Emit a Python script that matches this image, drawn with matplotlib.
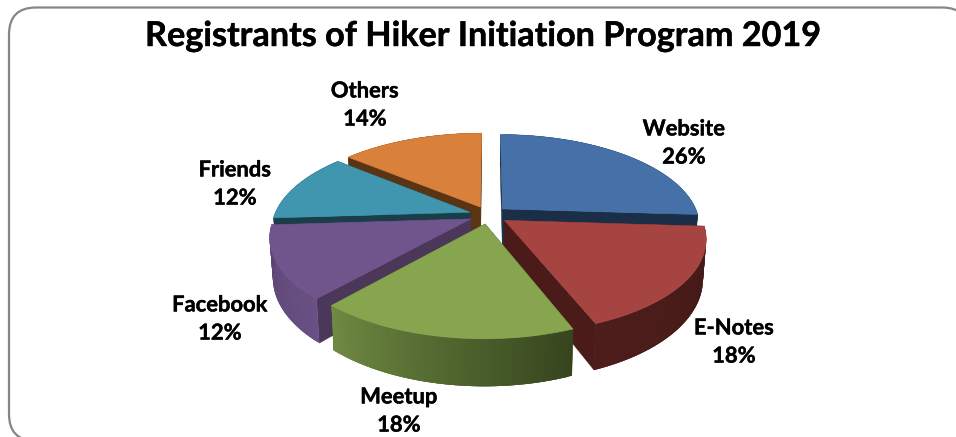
import numpy as np
import matplotlib
matplotlib.use("Agg")
import matplotlib.pyplot as plt
import matplotlib.patheffects as pe
from matplotlib.patches import FancyBboxPatch
from matplotlib.colors import to_rgb

# ---- data ----
categories = ["Website", "E-Notes", "Meetup", "Facebook", "Friends", "Others"]
shares = [26, 18, 17.5, 12.5, 12, 14]
share_labels = ["26%", "18%", "18%", "12%", "12%", "14%"]
title = "Registrants of Hiker Initiation Program 2019"

# ---- style ----
top_colors = ["#4571A8", "#A64442", "#87A54E", "#70558D", "#3F96AE", "#D9813B"]
cut_colors = ["#1A2E48", "#4A1B19", "#36451E", "#4B3759", "#1A3E49", "#5B3413"]
wall_start = ["#1A2E48", "#431917", "#36451E", "#6A5185", "#1A3E49", "#5B3413"]
wall_end = ["#1A2E48", "#4D1D1B", "#6F8A42", "#5A4372", "#1A3E49", "#5B3413"]
draw_order = [0, 5, 4, 3, 1, 2]
label_xy = [(684, 143), (734, 342), (399, 411), (220, 319), (235, 184), (365, 105)]

CX, CY = 488.5, 215.0
RX, RY, PERSP = 195.5, 90.0, 0.183
DEPTH, BOTTOM_SHRINK, EXPLODE = 38.0, 0.985, 0.10

W, H = 956, 437
fig = plt.figure(figsize=(W / 100, H / 100), dpi=100)
ax = fig.add_axes([0, 0, 1, 1])
ax.set_xlim(0, W)
ax.set_ylim(H, 0)
ax.axis("off")

ax.add_patch(FancyBboxPatch((9, 7.5), 960, 433.5, boxstyle="round,pad=0,rounding_size=27",
                            fc="white", ec="#868686", lw=1.6, zorder=0, clip_on=True))


def project(x, y, floor=False):
    """Perspective projection of disc coordinates (y points away from viewer)."""
    x, y = np.asarray(x, float), np.asarray(y, float)
    w = 1 + PERSP * y
    if floor:
        return CX + BOTTOM_SHRINK * RX * x / w, CY + (-RY * y + DEPTH) / w
    return CX + RX * x / w, CY - RY * y / w


edges = np.cumsum([0] + shares) / sum(shares) * 2 * np.pi
z = 1
for i in draw_order:
    a0, a1 = edges[i], edges[i + 1]
    mid = (a0 + a1) / 2
    ox, oy = EXPLODE * np.sin(mid), EXPLODE * np.cos(mid)
    t = np.linspace(a0, a1, 90)
    rim_x, rim_y = ox + np.sin(t), oy + np.cos(t)

    # radial cut faces
    for a in (a0, a1):
        ex, ey = ox + np.sin(a), oy + np.cos(a)
        p = [project(ox, oy), project(ex, ey), project(ex, ey, True), project(ox, oy, True)]
        ax.fill(*zip(*p), fc=cut_colors[i], ec=cut_colors[i], lw=0.4, zorder=z)
    z += 1

    # outer wall, shaded in narrow overlapping strips
    c0, c1 = np.array(to_rgb(wall_start[i])), np.array(to_rgb(wall_end[i]))
    for k in range(len(t) - 1):
        s = k / (len(t) - 2)
        col = c0 * (1 - s) + c1 * s
        xs, ys = rim_x[k:k + 4], rim_y[k:k + 4]
        tx, ty = project(xs, ys)
        bx, by = project(xs, ys, True)
        ax.fill(np.r_[tx, bx[::-1]], np.r_[ty, by[::-1]], fc=col, ec="none", zorder=z + k * 1e-3)
    z += 1

    # top face
    tx, ty = project(rim_x, rim_y)
    ax_, ay_ = project(ox, oy)
    ax.fill(np.r_[ax_, tx], np.r_[ay_, ty], fc=top_colors[i], ec=top_colors[i], lw=0.4, zorder=z)
    z += 1

font = {"family": "Lato", "weight": "bold", "color": "black"}
stroke = [pe.withStroke(linewidth=0.3, foreground="black")]
ax.text(483, 36, title, fontsize=24.6, ha="center", va="center", zorder=z,
        path_effects=stroke, **font)
for name, share, (lx, ly) in zip(categories, share_labels, label_xy):
    ax.text(lx, ly, f"{name}\n{share}", fontsize=15.8, ha="center", va="center",
            linespacing=1.42, zorder=z, path_effects=stroke, **font)

fig.savefig("out.png", dpi=100)
